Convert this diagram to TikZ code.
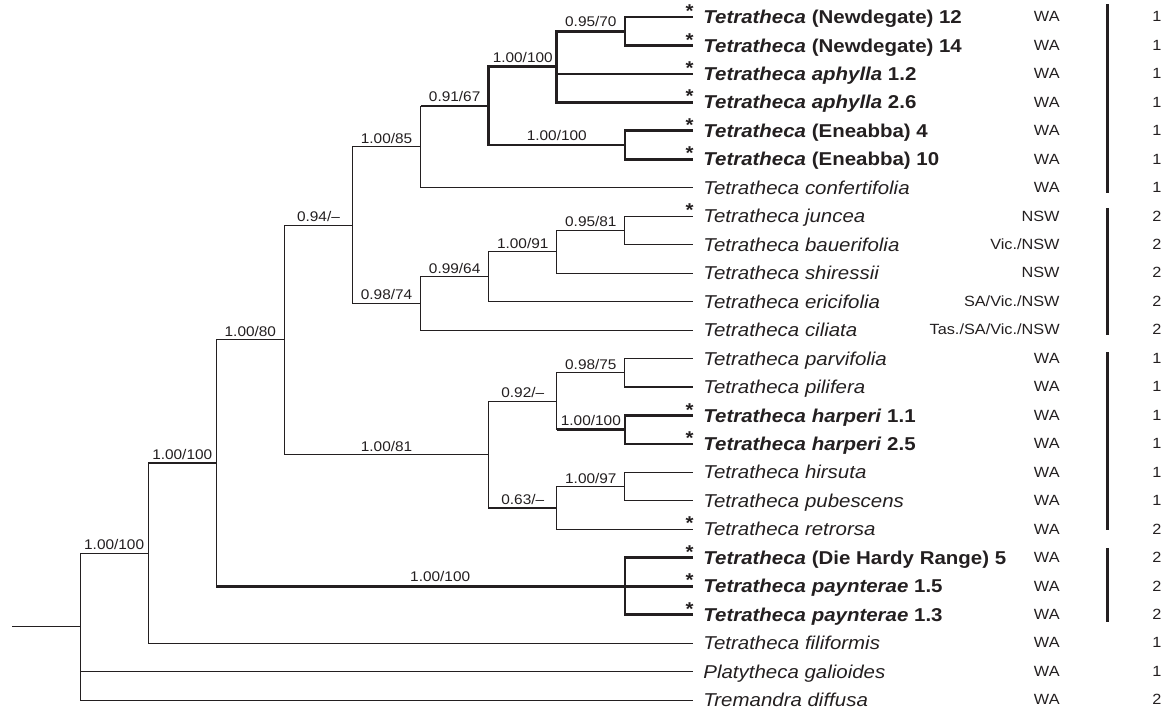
\documentclass[tikz,border=0pt]{standalone}
\usepackage{fontspec}
\setmainfont{Liberation Sans}[FakeStretch=1.1]
\usetikzlibrary{calc}
\definecolor{ink}{HTML}{231F20}
\tikzset{
  br/.style={draw=ink, line width=0.55pt},
  thk/.style={draw=ink, line width=1.35pt},
  supp/.style={above, inner sep=1.4pt, font=\fontsize{7}{8}\selectfont, text=ink},
  taxon/.style={anchor=base west, inner sep=0pt, font=\fontsize{9.3}{11}\selectfont, text=ink},
  star/.style={anchor=base east, inner sep=0pt, font=\fontsize{9.3}{11}\selectfont\bfseries, text=ink},
  region/.style={anchor=base east, inner sep=0pt, font=\fontsize{7.4}{9}\selectfont, text=ink},
  grp/.style={anchor=base, inner sep=0pt, font=\fontsize{7.4}{9}\selectfont, text=ink},
  bar/.style={draw=ink, line width=1.5pt}
}

\begin{document}
\begin{tikzpicture}[x=0.5pt, y=-0.5pt]
    \useasboundingbox (0,0) rectangle (1168,709);

    % tips
    \coordinate (new12) at (693,17.00);
    \coordinate (new14) at (693,45.46);
    \coordinate (aph12) at (693,73.92);
    \coordinate (aph26) at (693,102.38);
    \coordinate (ene4) at (693,130.84);
    \coordinate (ene10) at (693,159.30);
    \coordinate (conf) at (693,187.76);
    \coordinate (junc) at (693,216.22);
    \coordinate (baue) at (693,244.68);
    \coordinate (shir) at (693,273.14);
    \coordinate (eric) at (693,301.60);
    \coordinate (cili) at (693,330.06);
    \coordinate (parv) at (693,358.52);
    \coordinate (pili) at (693,386.98);
    \coordinate (harp11) at (693,415.44);
    \coordinate (harp25) at (693,443.90);
    \coordinate (hirs) at (693,472.36);
    \coordinate (pube) at (693,500.82);
    \coordinate (retr) at (693,529.28);
    \coordinate (dhr5) at (693,557.74);
    \coordinate (payn15) at (693,586.20);
    \coordinate (payn13) at (693,614.66);
    \coordinate (fili) at (693,643.12);
    \coordinate (plat) at (693,671.58);
    \coordinate (trem) at (693,700.04);

    % internal nodes
    \coordinate (nNewd) at (624.9,31.23);
    \coordinate (nAphy) at (556.8,66.80);
    \coordinate (nEnea) at (624.9,145.07);
    \coordinate (nWA) at (488.7,105.94);
    \coordinate (nConf) at (420.6,146.85);
    \coordinate (nJunc) at (624.9,230.45);
    \coordinate (nShir) at (556.8,251.80);
    \coordinate (nEric) at (488.7,276.70);
    \coordinate (nEast) at (420.6,303.38);
    \coordinate (nA) at (352.5,225.10);
    \coordinate (nParv) at (624.9,372.75);
    \coordinate (nHarp) at (624.9,429.67);
    \coordinate (nB1) at (556.8,401.21);
    \coordinate (nHirs) at (624.9,486.59);
    \coordinate (nB2) at (556.8,507.94);
    \coordinate (nB) at (488.7,454.57);
    \coordinate (nC) at (284.4,339.84);
    \coordinate (nPayn) at (624.9,586.20);
    \coordinate (nD) at (216.3,463.02);
    \coordinate (nE) at (148.2,553.07);
    \coordinate (nRoot) at (80.1,626.56);
    \coordinate (base) at (12,626.56);

    % backbone
    \draw[br] (base) -- (nRoot);
    \draw[br] (nRoot) |- (nE) node[supp, pos=0.75] {1.00/100};
    \draw[br] (nRoot) |- (plat);
    \draw[br] (nRoot) |- (trem);
    \draw[br] (nE) |- (nD) node[supp, pos=0.75] {1.00/100};
    \draw[br] (nE) |- (fili);
    \draw[br] (nD) |- (nC) node[supp, pos=0.75] {1.00/80};
    \draw[br] (nD) -- (nD |- nPayn);
    \draw[thk] (nD |- nPayn) -- (nPayn) node[supp, pos=0.548] {1.00/100};
    \draw[br] (nC) |- (nA) node[supp, pos=0.75] {0.94/–};
    \draw[br] (nC) |- (nB) node[supp, pos=0.75] {1.00/81};

    % western clade
    \draw[br] (nA) |- (nConf) node[supp, pos=0.75] {1.00/85};
    \draw[br] (nConf) -- (nConf |- nWA);
    \draw[thk] (nConf |- nWA) -- (nWA) node[supp, midway] {0.91/67};
    \draw[br] (nConf) |- (conf);
    \draw[thk] (nWA) |- (nAphy) node[supp, pos=0.75] {1.00/100};
    \draw[thk] (nWA) |- (nEnea) node[supp, pos=0.75] {1.00/100};
    \draw[thk] (nAphy) |- (nNewd) node[supp, pos=0.75] {0.95/70};
    \draw[thk] (nAphy) |- (aph12);
    \draw[thk] (nAphy) |- (aph26);
    \draw[thk] (nNewd) |- (new12);
    \draw[thk] (nNewd) |- (new14);
    \draw[thk] (nEnea) |- (ene4);
    \draw[thk] (nEnea) |- (ene10);

    % eastern clade
    \draw[br] (nA) |- (nEast) node[supp, pos=0.75] {0.98/74};
    \draw[br] (nEast) |- (nEric) node[supp, pos=0.75] {0.99/64};
    \draw[br] (nEast) |- (cili);
    \draw[br] (nEric) |- (nShir) node[supp, pos=0.75] {1.00/91};
    \draw[br] (nEric) |- (eric);
    \draw[br] (nShir) |- (nJunc) node[supp, pos=0.75] {0.95/81};
    \draw[br] (nShir) |- (shir);
    \draw[br] (nJunc) |- (junc);
    \draw[br] (nJunc) |- (baue);

    % second western clade
    \draw[br] (nB) |- (nB1) node[supp, pos=0.75] {0.92/–};
    \draw[br] (nB) |- (nB2) node[supp, pos=0.75] {0.63/–};
    \draw[br] (nB1) |- (nParv) node[supp, pos=0.75] {0.98/75};
    \draw[br] (nB1) -- (nB1 |- nHarp);
    \draw[thk] (nB1 |- nHarp) -- (nHarp) node[supp, midway] {1.00/100};
    \draw[br] (nParv) |- (parv);
    \draw[br] (nParv) |- (pili);
    \draw[thk] (nHarp) |- (harp11);
    \draw[thk] (nHarp) |- (harp25);
    \draw[br] (nB2) |- (nHirs) node[supp, pos=0.75] {1.00/97};
    \draw[br] (nB2) |- (retr);
    \draw[br] (nHirs) |- (hirs);
    \draw[br] (nHirs) |- (pube);
    \draw[thk] (nPayn) |- (dhr5);
    \draw[thk] (nPayn) |- (payn15);
    \draw[thk] (nPayn) |- (payn13);

    % taxon names
    \node[taxon] at ($ (new12) + (10,6.6) $) {\textbf{\textit{Tetratheca} (Newdegate) 12}};
    \node[taxon] at ($ (new14) + (10,6.6) $) {\textbf{\textit{Tetratheca} (Newdegate) 14}};
    \node[taxon] at ($ (aph12) + (10,6.6) $) {\textbf{\textit{Tetratheca aphylla} 1.2}};
    \node[taxon] at ($ (aph26) + (10,6.6) $) {\textbf{\textit{Tetratheca aphylla} 2.6}};
    \node[taxon] at ($ (ene4) + (10,6.6) $) {\textbf{\textit{Tetratheca} (Eneabba) 4}};
    \node[taxon] at ($ (ene10) + (10,6.6) $) {\textbf{\textit{Tetratheca} (Eneabba) 10}};
    \node[taxon] at ($ (conf) + (10,6.6) $) {\textit{Tetratheca confertifolia}};
    \node[taxon] at ($ (junc) + (10,6.6) $) {\textit{Tetratheca juncea}};
    \node[taxon] at ($ (baue) + (10,6.6) $) {\textit{Tetratheca bauerifolia}};
    \node[taxon] at ($ (shir) + (10,6.6) $) {\textit{Tetratheca shiressii}};
    \node[taxon] at ($ (eric) + (10,6.6) $) {\textit{Tetratheca ericifolia}};
    \node[taxon] at ($ (cili) + (10,6.6) $) {\textit{Tetratheca ciliata}};
    \node[taxon] at ($ (parv) + (10,6.6) $) {\textit{Tetratheca parvifolia}};
    \node[taxon] at ($ (pili) + (10,6.6) $) {\textit{Tetratheca pilifera}};
    \node[taxon] at ($ (harp11) + (10,6.6) $) {\textbf{\textit{Tetratheca harperi} 1.1}};
    \node[taxon] at ($ (harp25) + (10,6.6) $) {\textbf{\textit{Tetratheca harperi} 2.5}};
    \node[taxon] at ($ (hirs) + (10,6.6) $) {\textit{Tetratheca hirsuta}};
    \node[taxon] at ($ (pube) + (10,6.6) $) {\textit{Tetratheca pubescens}};
    \node[taxon] at ($ (retr) + (10,6.6) $) {\textit{Tetratheca retrorsa}};
    \node[taxon] at ($ (dhr5) + (10,6.6) $) {\textbf{\textit{Tetratheca} (Die Hardy Range) 5}};
    \node[taxon] at ($ (payn15) + (10,6.6) $) {\textbf{\textit{Tetratheca paynterae} 1.5}};
    \node[taxon] at ($ (payn13) + (10,6.6) $) {\textbf{\textit{Tetratheca paynterae} 1.3}};
    \node[taxon] at ($ (fili) + (10,6.6) $) {\textit{Tetratheca filiformis}};
    \node[taxon] at ($ (plat) + (10,6.6) $) {\textit{Platytheca galioides}};
    \node[taxon] at ($ (trem) + (10,6.6) $) {\textit{Tremandra diffusa}};

    % asterisks
    \node[star] at ($ (new12) + (1,0.6) $) {*};
    \node[star] at ($ (new14) + (1,0.6) $) {*};
    \node[star] at ($ (aph12) + (1,0.6) $) {*};
    \node[star] at ($ (aph26) + (1,0.6) $) {*};
    \node[star] at ($ (ene4) + (1,0.6) $) {*};
    \node[star] at ($ (ene10) + (1,0.6) $) {*};
    \node[star] at ($ (junc) + (1,0.6) $) {*};
    \node[star] at ($ (harp11) + (1,0.6) $) {*};
    \node[star] at ($ (harp25) + (1,0.6) $) {*};
    \node[star] at ($ (retr) + (1,0.6) $) {*};
    \node[star] at ($ (dhr5) + (1,0.6) $) {*};
    \node[star] at ($ (payn15) + (1,0.6) $) {*};
    \node[star] at ($ (payn13) + (1,0.6) $) {*};

    % distribution
    \node[region] at ($ (new12) + (367,4.8) $) {WA};
    \node[region] at ($ (new14) + (367,4.8) $) {WA};
    \node[region] at ($ (aph12) + (367,4.8) $) {WA};
    \node[region] at ($ (aph26) + (367,4.8) $) {WA};
    \node[region] at ($ (ene4) + (367,4.8) $) {WA};
    \node[region] at ($ (ene10) + (367,4.8) $) {WA};
    \node[region] at ($ (conf) + (367,4.8) $) {WA};
    \node[region] at ($ (junc) + (367,4.8) $) {NSW};
    \node[region] at ($ (baue) + (367,4.8) $) {Vic./NSW};
    \node[region] at ($ (shir) + (367,4.8) $) {NSW};
    \node[region] at ($ (eric) + (367,4.8) $) {SA/Vic./NSW};
    \node[region] at ($ (cili) + (367,4.8) $) {Tas./SA/Vic./NSW};
    \node[region] at ($ (parv) + (367,4.8) $) {WA};
    \node[region] at ($ (pili) + (367,4.8) $) {WA};
    \node[region] at ($ (harp11) + (367,4.8) $) {WA};
    \node[region] at ($ (harp25) + (367,4.8) $) {WA};
    \node[region] at ($ (hirs) + (367,4.8) $) {WA};
    \node[region] at ($ (pube) + (367,4.8) $) {WA};
    \node[region] at ($ (retr) + (367,4.8) $) {WA};
    \node[region] at ($ (dhr5) + (367,4.8) $) {WA};
    \node[region] at ($ (payn15) + (367,4.8) $) {WA};
    \node[region] at ($ (payn13) + (367,4.8) $) {WA};
    \node[region] at ($ (fili) + (367,4.8) $) {WA};
    \node[region] at ($ (plat) + (367,4.8) $) {WA};
    \node[region] at ($ (trem) + (367,4.8) $) {WA};

    % group bars
    \draw[bar] (1107,4) -- (1107,193);
    \draw[bar] (1107,208) -- (1107,335);
    \draw[bar] (1107,352) -- (1107,530);
    \draw[bar] (1107,548) -- (1107,622);

    % group numbers
    \node[grp] at ($ (new12) + (464,4.8) $) {1};
    \node[grp] at ($ (new14) + (464,4.8) $) {1};
    \node[grp] at ($ (aph12) + (464,4.8) $) {1};
    \node[grp] at ($ (aph26) + (464,4.8) $) {1};
    \node[grp] at ($ (ene4) + (464,4.8) $) {1};
    \node[grp] at ($ (ene10) + (464,4.8) $) {1};
    \node[grp] at ($ (conf) + (464,4.8) $) {1};
    \node[grp] at ($ (junc) + (464,4.8) $) {2};
    \node[grp] at ($ (baue) + (464,4.8) $) {2};
    \node[grp] at ($ (shir) + (464,4.8) $) {2};
    \node[grp] at ($ (eric) + (464,4.8) $) {2};
    \node[grp] at ($ (cili) + (464,4.8) $) {2};
    \node[grp] at ($ (parv) + (464,4.8) $) {1};
    \node[grp] at ($ (pili) + (464,4.8) $) {1};
    \node[grp] at ($ (harp11) + (464,4.8) $) {1};
    \node[grp] at ($ (harp25) + (464,4.8) $) {1};
    \node[grp] at ($ (hirs) + (464,4.8) $) {1};
    \node[grp] at ($ (pube) + (464,4.8) $) {1};
    \node[grp] at ($ (retr) + (464,4.8) $) {2};
    \node[grp] at ($ (dhr5) + (464,4.8) $) {2};
    \node[grp] at ($ (payn15) + (464,4.8) $) {2};
    \node[grp] at ($ (payn13) + (464,4.8) $) {2};
    \node[grp] at ($ (fili) + (464,4.8) $) {1};
    \node[grp] at ($ (plat) + (464,4.8) $) {1};
    \node[grp] at ($ (trem) + (464,4.8) $) {2};
\end{tikzpicture}
\end{document}
